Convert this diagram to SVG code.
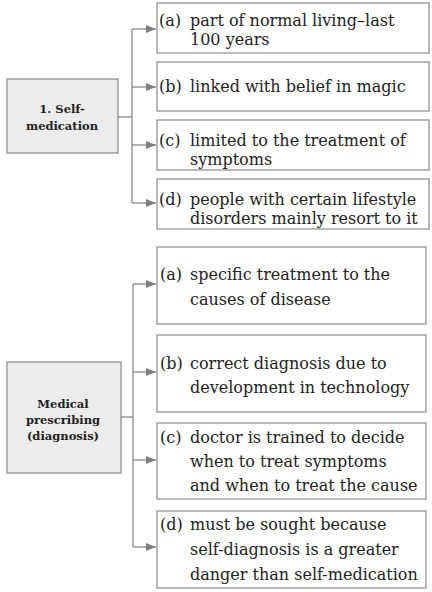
<svg xmlns="http://www.w3.org/2000/svg" width="432" height="592" viewBox="0 0 432 592">
<style>
.box{fill:#fff;stroke:#8a8a8a;stroke-width:1.2}
.src{fill:#ececec;stroke:#8a8a8a;stroke-width:1.2}
.t{font-family:"DejaVu Serif","Liberation Serif",serif;font-size:16px;fill:#222}
.b{font-family:"DejaVu Serif","Liberation Serif",serif;font-size:11.5px;font-weight:bold;fill:#222;text-anchor:middle}
.ln{fill:none;stroke:#808080;stroke-width:1.2}
</style>
<defs>
<marker id="ah" viewBox="0 0 10 8" refX="10" refY="4" markerWidth="10" markerHeight="8" markerUnits="userSpaceOnUse" orient="auto">
<path d="M0,0 L10,4 L0,8 Z" fill="#808080"/>
</marker>
</defs>
<rect width="432" height="592" fill="#fff"/>
<g id="connectors">
<path class="ln" d="M118,117 H132"/>
<path class="ln" d="M132,29 V203"/>
<path class="ln" d="M132,29 H156" marker-end="url(#ah)"/>
<path class="ln" d="M132,87 H156" marker-end="url(#ah)"/>
<path class="ln" d="M132,145 H156" marker-end="url(#ah)"/>
<path class="ln" d="M132,203 H156" marker-end="url(#ah)"/>
<path class="ln" d="M121,417 H133"/>
<path class="ln" d="M133,284 V547"/>
<path class="ln" d="M133,284 H156" marker-end="url(#ah)"/>
<path class="ln" d="M133,372 H156" marker-end="url(#ah)"/>
<path class="ln" d="M133,460 H156" marker-end="url(#ah)"/>
<path class="ln" d="M133,547 H156" marker-end="url(#ah)"/>
</g>
<g id="self-medication">
<rect class="src" x="7" y="79" width="111" height="74"/>
<text class="b" x="62" y="113">1. Self-</text>
<text class="b" x="62" y="130">medication</text>
</g>
<g id="sm-a">
<rect class="box" x="157" y="3" width="272" height="50"/>
<text class="t" x="159" y="26">(a)</text>
<text class="t" x="190" y="26">part of normal living–last</text>
<text class="t" x="190" y="45">100 years</text>
</g>
<g id="sm-b">
<rect class="box" x="157" y="62" width="272" height="49"/>
<text class="t" x="159" y="92">(b)</text>
<text class="t" x="190" y="92">linked with belief in magic</text>
</g>
<g id="sm-c">
<rect class="box" x="157" y="120" width="272" height="50"/>
<text class="t" x="159" y="146">(c)</text>
<text class="t" x="190" y="146">limited to the treatment of</text>
<text class="t" x="190" y="165">symptoms</text>
</g>
<g id="sm-d">
<rect class="box" x="157" y="179" width="272" height="50"/>
<text class="t" x="159" y="205">(d)</text>
<text class="t" x="190" y="205">people with certain lifestyle</text>
<text class="t" x="190" y="224">disorders mainly resort to it</text>
</g>
<g id="medical-prescribing">
<rect class="src" x="7" y="362" width="114" height="111"/>
<text class="b" x="63" y="408">Medical</text>
<text class="b" x="63" y="424">prescribing</text>
<text class="b" x="63" y="440">(diagnosis)</text>
</g>
<g id="mp-a">
<rect class="box" x="157" y="247" width="269" height="77"/>
<text class="t" x="160" y="280">(a)</text>
<text class="t" x="190" y="280">specific treatment to the</text>
<text class="t" x="190" y="305">causes of disease</text>
</g>
<g id="mp-b">
<rect class="box" x="157" y="335" width="269" height="77"/>
<text class="t" x="160" y="369">(b)</text>
<text class="t" x="190" y="369">correct diagnosis due to</text>
<text class="t" x="190" y="393">development in technology</text>
</g>
<g id="mp-c">
<rect class="box" x="157" y="423" width="269" height="76"/>
<text class="t" x="160" y="443">(c)</text>
<text class="t" x="190" y="443">doctor is trained to decide</text>
<text class="t" x="190" y="467">when to treat symptoms</text>
<text class="t" x="190" y="491">and when to treat the cause</text>
</g>
<g id="mp-d">
<rect class="box" x="157" y="511" width="269" height="77"/>
<text class="t" x="160" y="530">(d)</text>
<text class="t" x="190" y="530">must be sought because</text>
<text class="t" x="190" y="555">self-diagnosis is a greater</text>
<text class="t" x="190" y="580">danger than self-medication</text>
</g>
</svg>
